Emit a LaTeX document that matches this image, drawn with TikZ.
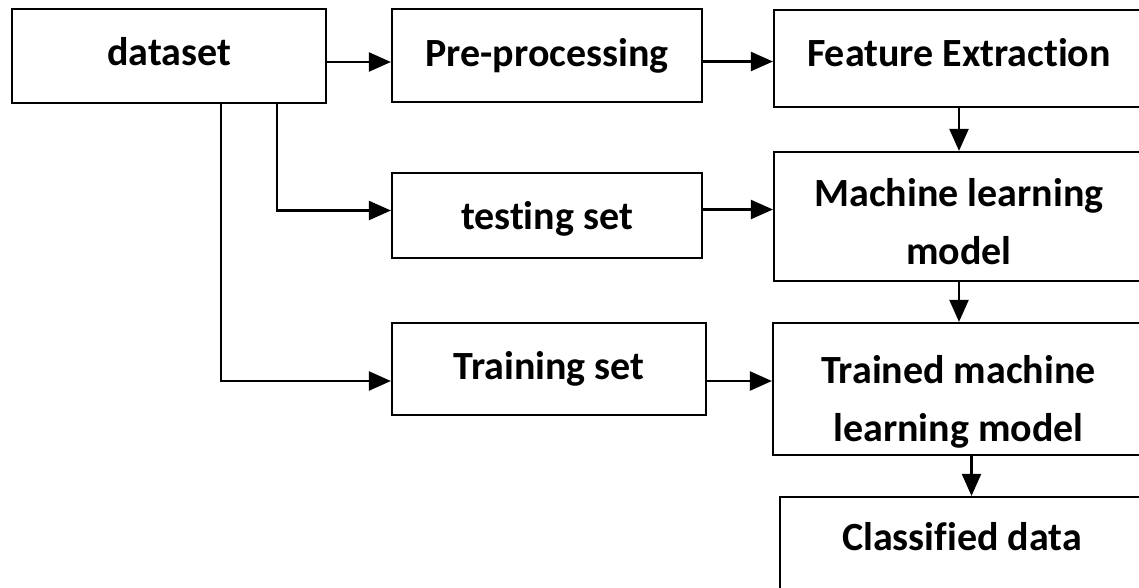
\documentclass[tikz,border=0pt]{standalone}
\usepackage{fontspec}
\setmainfont{Carlito}[Ligatures={NoCommon,NoRare,NoContextual}]
\usepackage{xcolor}
\usetikzlibrary{arrows.meta}

\begin{document}
\begin{tikzpicture}[x=1pt, y=-1pt,
    box/.style={draw, line width=2.2pt, inner sep=0pt, align=center,
        font=\fontsize{40}{58}\selectfont\bfseries},
    arr/.style={line width=2.2pt, -{Triangle[length=22pt,width=19pt]}}]
            % Page frame
            \useasboundingbox (0,0) rectangle (1139,588);
            \clip (0,0) rectangle (1139,588);

            % Left column and middle column
            \node[box, minimum width=314pt, minimum height=94pt, text depth=10pt]
                (data) at (169,56) {dataset};
            \node[box, minimum width=310pt, minimum height=93pt]
                (prep) at (547,55.5) {Pre-processing};
            \node[box, minimum width=310pt, minimum height=85pt, text depth=0pt]
                (test) at (547,215.5) {testing set};
            \node[box, minimum width=314pt, minimum height=92pt]
                (train) at (549,369) {Training set};

            % Right column - boxes run past the right edge
            \node[box, minimum width=370pt, minimum height=97pt, text depth=12pt]
                (feat) at (959,58.5) {Feature Extraction};
            \node[box, minimum width=370pt, minimum height=129pt]
                (ml) at (959,216.5) {\rule{0pt}{38pt}Machine learning\\model};
            \node[box, minimum width=371pt, minimum height=132pt]
                (trained) at (958.5,389) {\rule{0pt}{53pt}Trained machine\\learning model};
            \node[box, minimum width=364pt, minimum height=95pt, text depth=16pt]
                (clas) at (962,544.5) {Classified data};

            % Arrows along the top row
            \draw[arr] ([yshift=-6pt]data.east) -- ([yshift=-6pt]data.east -| prep.west);
            \draw[arr] ([yshift=-6pt]prep.east) -- ([yshift=-6pt]prep.east -| feat.west);

            % Split of the dataset
            \draw[arr] ([xshift=108pt]data.south) |- ([yshift=5pt]test.west);
            \draw[arr] ([xshift=52pt]data.south) |- ([yshift=-12pt]train.west);

            % Into the right column
            \draw[arr] ([yshift=6pt]test.east) -- ([yshift=6pt]test.east -| ml.west);
            \draw[arr] ([yshift=-12pt]train.east) -- ([yshift=-12pt]train.east -| trained.west);

            % Down the right column
            \draw[arr] (feat.south) -- (ml.north);
            \draw[arr] (ml.south) -- (ml.south |- trained.north);
            \draw[arr] ([xshift=13pt]trained.south) -- ([xshift=13pt]trained.south |- clas.north);
        \end{tikzpicture}
\end{document}
